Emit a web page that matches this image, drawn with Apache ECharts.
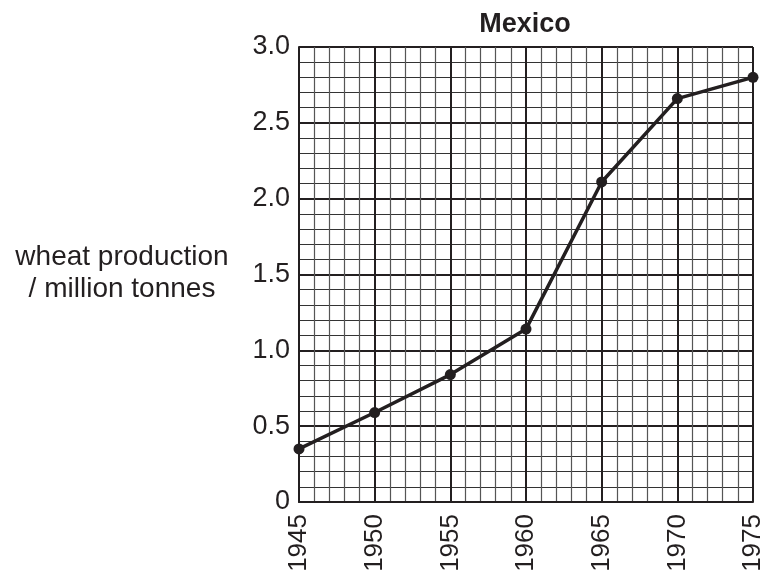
<!DOCTYPE html>
<html>
<head>
<meta charset="utf-8">
<script src="https://cdn.jsdelivr.net/npm/echarts@6/dist/echarts.min.js"></script>
<style>
html,body{margin:0;padding:0;background:#fff;}
#chart{width:767px;height:581px;}
</style>
</head>
<body>
<div id="chart"></div>
<script>
const years = [1945, 1950, 1955, 1960, 1965, 1970, 1975];
const production = [0.35, 0.59, 0.84, 1.14, 2.11, 2.66, 2.80];
const title = 'Mexico';
const yAxisTitle = ['wheat production', '/ million tonnes'];

const chart = echarts.init(document.getElementById('chart'));
const font = '"Liberation Sans", Arial, sans-serif';
chart.setOption({
  animation: false,
  backgroundColor: '#fff',
  title: {
    text: title, left: 520, top: 6, textAlign: 'center',
    textStyle: {fontFamily: font, fontSize: 27, fontWeight: 'bold', color: '#231f20'}
  },
  graphic: [{
    type: 'text',
    style: {text: yAxisTitle.join('\n'), fontFamily: font, fontSize: 28, fill: '#231f20',
      align: 'center', verticalAlign: 'middle', lineHeight: 32},
    x: 122, y: 273
  }],
  grid: {left: 299, right: 14, top: 47, bottom: 79},
  xAxis: {
    type: 'value', min: 1945, max: 1975, interval: 5,
    axisLine: {show: true, onZero: false, lineStyle: {color: '#231f20', width: 2}},
    axisTick: {show: false},
    axisLabel: {rotate: 90, fontFamily: font, fontSize: 26, color: '#231f20', margin: 12,
      formatter: v => String(v)},
    splitLine: {show: true, lineStyle: {color: '#231f20', width: 2}},
    minorTick: {show: false, splitNumber: 5},
    minorSplitLine: {show: true, lineStyle: {color: '#555', width: 1.2}}
  },
  yAxis: {
    type: 'value', min: 0, max: 3, interval: 0.5,
    axisLine: {show: true, lineStyle: {color: '#231f20', width: 2}},
    axisTick: {show: false},
    axisLabel: {fontFamily: font, fontSize: 27, color: '#231f20', margin: 9,
      formatter: v => v === 0 ? '0' : v.toFixed(1)},
    splitLine: {show: true, lineStyle: {color: '#231f20', width: 2}},
    minorTick: {show: false, splitNumber: 5},
    minorSplitLine: {show: true, lineStyle: {color: '#333', width: 1.2}}
  },
  series: [{
    type: 'line',
    data: years.map((y, i) => [y, production[i]]),
    symbol: 'circle', symbolSize: 11,
    lineStyle: {color: '#231f20', width: 3.5},
    itemStyle: {color: '#231f20'}
  }]
});
</script>
</body>
</html>
